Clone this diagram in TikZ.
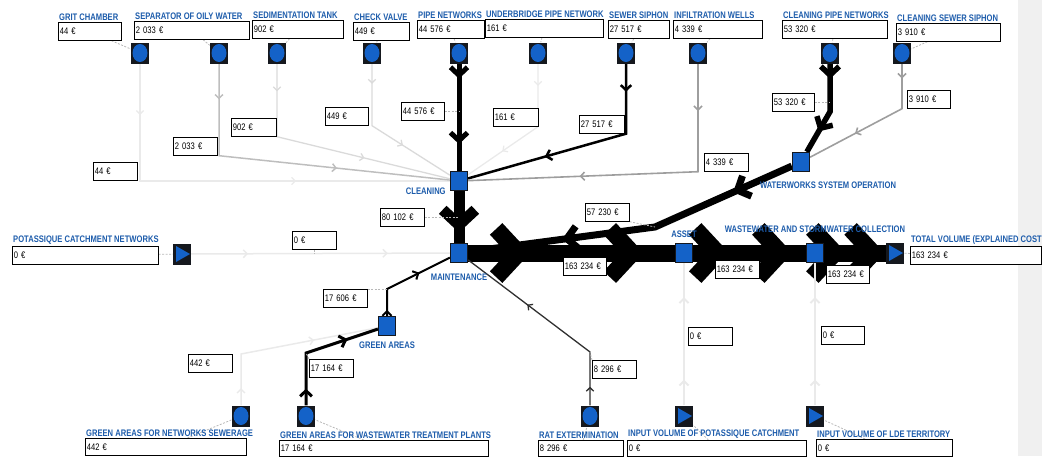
\documentclass[tikz,border=0pt]{standalone}
\usepackage{fontspec}
\newfontfamily\lblfont[FakeStretch=0.8]{Liberation Sans}
\usetikzlibrary{arrows.meta, positioning, decorations.markings, backgrounds}
\definecolor{nodeblue}{HTML}{1462C8}
\definecolor{nodedark}{HTML}{15181E}
\definecolor{titleblue}{HTML}{1D5CAB}
\definecolor{panelgrey}{HTML}{F0F0F0}
\definecolor{flowfaint}{HTML}{EAEAEA}
\definecolor{flowlight}{HTML}{DADADA}
\definecolor{flowmid}{HTML}{BEBEBE}
\definecolor{flowgrey}{HTML}{9E9E9E}
\definecolor{flowdark}{HTML}{303030}
\definecolor{leadgrey}{HTML}{B8B8B8}

\begin{document}
\begin{tikzpicture}[
    x=1pt, y=-1pt,
    font=\lblfont\fontsize{9.5}{10}\selectfont,
    % ── shared styles ──
    src/.style={fill=nodedark, minimum width=18, minimum height=21, inner sep=0,
        path picture={\fill[nodeblue] (path picture bounding box.center)
            ellipse [x radius=7.5, y radius=9];}},
    feed/.style={fill=nodedark, minimum width=18, minimum height=21, inner sep=0,
        path picture={\fill[nodeblue]
            ([shift={(-6,-8)}]path picture bounding box.center)
            -- ([shift={(8,0)}]path picture bounding box.center)
            -- ([shift={(-6,8)}]path picture bounding box.center) -- cycle;}},
    act/.style={fill=nodeblue, draw=nodedark, line width=1.3,
        minimum width=17, minimum height=19, inner sep=0},
    ttl/.style={font=\lblfont\bfseries\fontsize{9.5}{10}\selectfont,
        text=titleblue, inner sep=1},
    valbox/.style={draw, line width=0.7, fill=white, text width=#1,
        align=left, minimum height=18, inner xsep=1.5, inner ysep=0,
        anchor=north west},
    flow/.style={line width=#1},
    chev/.tip={Straight Barb[length=+2pt 1.2, width=+4pt 2.6]},
    marks/.style 2 args={postaction={decorate, decoration={markings,
        mark=at position #1 with {\arrow{chev}},
        mark=at position #2 with {\arrow{chev}}}}},
    mark1/.style={postaction={decorate, decoration={markings,
        mark=at position #1 with {\arrow{chev}}}}},
    leader/.style={draw=leadgrey, dash pattern=on 2pt off 1.5pt, line width=0.8},
]
\useasboundingbox (0,0) rectangle (1042,456);

% ══════════════════════════════════════════════════════════════════════
%  TOP ROW: cost sources
% ══════════════════════════════════════════════════════════════════════
\node[src] (grit) at (140,53) {};
\node[src] (sepa) at (219,53) {};
\node[src] (sedi) at (277,53) {};
\node[src] (chk)  at (372,53) {};
\node[src] (pipe) at (459,53) {};
\node[src] (ubr)  at (538,53) {};
\node[src] (siph) at (626,53) {};
\node[src] (infw) at (698,53) {};
\node[src] (cpn)  at (830,53) {};
\node[src] (css)  at (902,53) {};

\node[valbox=60]  (gritv) at (58,22)  {44 €};
\node[valbox=112] (sepav) at (134,21) {2 033 €};
\node[valbox=88]  (sediv) at (252,20) {902 €};
\node[valbox=53]  (chkv)  at (353,22) {449 €};
\node[valbox=64]  (pipev) at (417,20) {44 576 €};
\node[valbox=115] (ubrv)  at (485,19) {161 €};
\node[valbox=58]  (siphv) at (608,20) {27 517 €};
\node[valbox=86]  (infwv) at (673,20) {4 339 €};
\node[valbox=102] (cpnv)  at (782,20) {53 320 €};
\node[valbox=101] (cssv)  at (896,23) {3 910 €};

\node[ttl, anchor=south west] (gritt) at (gritv.north west) {GRIT CHAMBER};
\node[ttl, anchor=south west] (sepat) at (sepav.north west) {SEPARATOR OF OILY WATER};
\node[ttl, anchor=south west] (sedit) at (sediv.north west) {SEDIMENTATION TANK};
\node[ttl, anchor=south west] (chkt)  at (chkv.north west)  {CHECK VALVE};
\node[ttl, anchor=south west] (pipet) at (pipev.north west) {PIPE NETWORKS};
\node[ttl, anchor=south west] (ubrt)  at (ubrv.north west)  {UNDERBRIDGE PIPE NETWORK};
\node[ttl, anchor=south west] (sipht) at (siphv.north west) {SEWER SIPHON};
\node[ttl, anchor=south west] (infwt) at (infwv.north west) {INFILTRATION WELLS};
\node[ttl, anchor=south west] (cpnt)  at (cpnv.north west)  {CLEANING PIPE NETWORKS};
\node[ttl, anchor=south west] (csst)  at (cssv.north west)  {CLEANING SEWER SIPHON};

% ══════════════════════════════════════════════════════════════════════
%  ACTIVITIES
% ══════════════════════════════════════════════════════════════════════
\node[act] (clean) at (459,181) {};
\node[act] (maint) at (459,253) {};
\node[act] (wso)   at (801,162) {};
\node[act] (asset) at (684,253) {};
\node[act] (wwsc)  at (815,253) {};
\node[act] (green) at (387,326) {};
\node[feed] (pcn)   at (182,254) {};
\node[feed] (total) at (895,253) {};

\node[ttl, anchor=east, xshift=-3pt] (cleant) at (clean.south west) {CLEANING};
\node[ttl, below=10pt of maint] (maintt) {MAINTENANCE};
\node[ttl, below=9pt of wso, xshift=27pt] (wsot) {WATERWORKS SYSTEM OPERATION};
\node[ttl, above=4pt of asset] (assett) {ASSET};
\node[ttl, above=9pt of wwsc] (wwsct) {WASTEWATER AND STORMWATER COLLECTION};
\node[ttl, below=5pt of green] (greent) {GREEN AREAS};

\node[valbox=143] (pcnv)   at (12,246)  {0 €};
\node[valbox=128] (totalv) at (910,246) {163 234 €};
\node[ttl, anchor=south west] (pcnt)   at (pcnv.north west)   {POTASSIQUE CATCHMENT NETWORKS};
\node[ttl, anchor=south west] (totalt) at (totalv.north west) {TOTAL VOLUME (EXPLAINED COST};

% ══════════════════════════════════════════════════════════════════════
%  BOTTOM ROW: inputs
% ══════════════════════════════════════════════════════════════════════
\node[src]  (gans)  at (241,416) {};
\node[src]  (gawt)  at (306,416) {};
\node[src]  (rat)   at (590,416) {};
\node[feed] (ivpc)  at (684,416) {};
\node[feed] (ivlde) at (815,416) {};

\node[valbox=158, minimum height=17] (gansv)  at (85,438)  {442 €};
\node[valbox=206, minimum height=16] (gawtv)  at (279,440) {17 164 €};
\node[valbox=82,  minimum height=16] (ratv)   at (538,440) {8 296 €};
\node[valbox=176, minimum height=16] (ivpcv)  at (627,440) {0 €};
\node[valbox=133, minimum height=17] (ivldev) at (816,439) {0 €};

\node[ttl, anchor=south west] (ganst)  at (gansv.north west)  {GREEN AREAS FOR NETWORKS SEWERAGE};
\node[ttl, anchor=south west] (gawtt)  at (gawtv.north west)  {GREEN AREAS FOR WASTEWATER TREATMENT PLANTS};
\node[ttl, anchor=south west] (ratt)   at (ratv.north west)   {RAT EXTERMINATION};
\node[ttl, anchor=south west] (ivpct)  at (ivpcv.north west)  {INPUT VOLUME OF POTASSIQUE CATCHMENT};
\node[ttl, anchor=south west] (ivldet) at (ivldev.north west) {INPUT VOLUME OF LDE TERRITORY};

% ══════════════════════════════════════════════════════════════════════
%  FLOW VALUES
% ══════════════════════════════════════════════════════════════════════
\node[valbox=41] (f_grit)  at (93,162)  {44 €};
\node[valbox=41] (f_sepa)  at (173,137) {2 033 €};
\node[valbox=42] (f_sedi)  at (231,118) {902 €};
\node[valbox=40] (f_chk)   at (325,107) {449 €};
\node[valbox=40] (f_pipe)  at (401,102) {44 576 €};
\node[valbox=42] (f_ubr)   at (493,108) {161 €};
\node[valbox=42] (f_siph)  at (579,115) {27 517 €};
\node[valbox=41] (f_infw)  at (704,153) {4 339 €};
\node[valbox=39] (f_cpn)   at (772,93)  {53 320 €};
\node[valbox=40] (f_css)   at (907,90)  {3 910 €};
\node[valbox=41] (f_wso)   at (585,203) {57 230 €};
\node[valbox=41] (f_clean) at (380,208) {80 102 €};
\node[valbox=41] (f_pcn)   at (292,231) {0 €};
\node[valbox=40] (f_ma)    at (563,257) {163 234 €};
\node[valbox=41] (f_aw)    at (715,260) {163 234 €};
\node[valbox=40] (f_wt)    at (826,265) {163 234 €};
\node[valbox=41] (f_green) at (323,289) {17 606 €};
\node[valbox=41] (f_gans)  at (188,354) {442 €};
\node[valbox=41] (f_gawt)  at (309,359) {17 164 €};
\node[valbox=41] (f_rat)   at (592,360) {8 296 €};
\node[valbox=41] (f_ivpc)  at (688,327) {0 €};
\node[valbox=40] (f_ivlde) at (821,326) {0 €};

% bends
\coordinate (k_wso)  at (655,227);
\coordinate (k_gawt) at (306,353);
\coordinate (k_rat)  at (590,352);

% ══════════════════════════════════════════════════════════════════════
%  FLOWS
% ══════════════════════════════════════════════════════════════════════
\begin{scope}[on background layer]
  \fill[panelgrey] (1018,0) rectangle (1042,456);

  \draw[flow=1.3, draw=flowfaint, marks={0.12}{0.64}] (grit) |- (clean);
  \draw[flow=1.5, draw=flowmid,   marks={0.11}{0.65}] (sepa) -- (sepa |- f_sepa.south) -- (clean);
  \draw[flow=1.3, draw=flowlight, marks={0.11}{0.65}] (sedi) -- (sedi |- f_sedi.south) -- (clean);
  \draw[flow=1.3, draw=flowlight, marks={0.13}{0.64}] (chk) -- (chk |- f_chk.south) -- (clean);
  \draw[flow=5,   draw=black,     marks={0.14}{0.75}] (pipe) -- (clean);
  \draw[flow=1.3, draw=flowfaint, marks={0.15}{0.72}] (ubr) -- (ubr |- f_ubr.south) -- (clean);
  \draw[flow=2.5, draw=black,     marks={0.12}{0.66}] (siph) -- (siph |- f_siph.south) -- (clean);
  \draw[flow=1.6, draw=flowgrey,  marks={0.14}{0.67}] (infw) -- (infw |- f_infw.south) -- (clean);
  \draw[flow=5.5, draw=black,     marks={0.16}{0.75}] (cpn) -- (cpn |- f_cpn.south) -- (wso);
  \draw[flow=1.6, draw=flowgrey,  marks={0.10}{0.66}] (css) -- (css |- f_css.south) -- (wso);

  \draw[flow=7,  draw=black, marks={0.19}{0.72}] (wso) -- (k_wso) -- (maint);
  \draw[flow=11, draw=black, mark1=0.8] (clean) -- (maint);
  \draw[flow=1.5, draw=flowfaint, marks={0.22}{0.76}] (pcn) -- (maint);

  \draw[flow=17, draw=black, marks={0.3}{0.85}] (maint) -- (asset);
  \draw[flow=17, draw=black, marks={0.32}{0.88}] (asset) -- (wwsc);
  \draw[flow=17, draw=black, marks={0.36}{0.98}] (wwsc) -- (total);

  \draw[flow=2,   draw=black,     marks={0.06}{0.65}] (green) -- (green |- f_green.north) -- (maint);
  \draw[flow=1.5, draw=flowfaint, marks={0.09}{0.66}] (gans) -- (gans |- f_gans.north) -- (green);
  \draw[flow=3,   draw=black,     marks={0.13}{0.75}] (gawt) -- (k_gawt) -- (green);
  \draw[flow=1.3, draw=flowdark,  marks={0.09}{0.64}] (rat) -- (k_rat) -- (maint);
  \draw[flow=2,   draw=flowfaint, marks={0.18}{0.76}] (ivpc) -- (asset);
  \draw[flow=2,   draw=flowfaint, marks={0.18}{0.76}] (ivlde) -- (wwsc);

  % ── dashed leaders ──
  \foreach \a/\b in {gritv/grit, sepav/sepa, sediv/sedi, chkv/chk, pipev/pipe,
      ubrv/ubr, siphv/siph, infwv/infw, cpnv/cpn, cssv/css, pcnv/pcn,
      totalv/total, gansv/gans, gawtv/gawt, ratv/rat, ivpcv/ivpc, ivldev/ivlde}
    \draw[leader] (\a) -- (\b);
  \draw[leader] (f_pipe.east) -- (f_pipe.east -| pipe);
  \draw[leader] (f_clean.east) -- (f_clean.east -| clean);
  \draw[leader] (f_cpn.east) -- (f_cpn.east -| cpn);
  \draw[leader] (f_pcn.south) -- (f_pcn.south |- pcn);
  \draw[leader] (f_wso.south east) -- (k_wso);
  \draw[leader] (f_green.north east) -- (green |- f_green.north);
  \draw[leader] (f_rat.north west) -- (k_rat);
  \draw[leader] (f_gawt.north west) -- (k_gawt);
\end{scope}

\end{tikzpicture}
\end{document}
